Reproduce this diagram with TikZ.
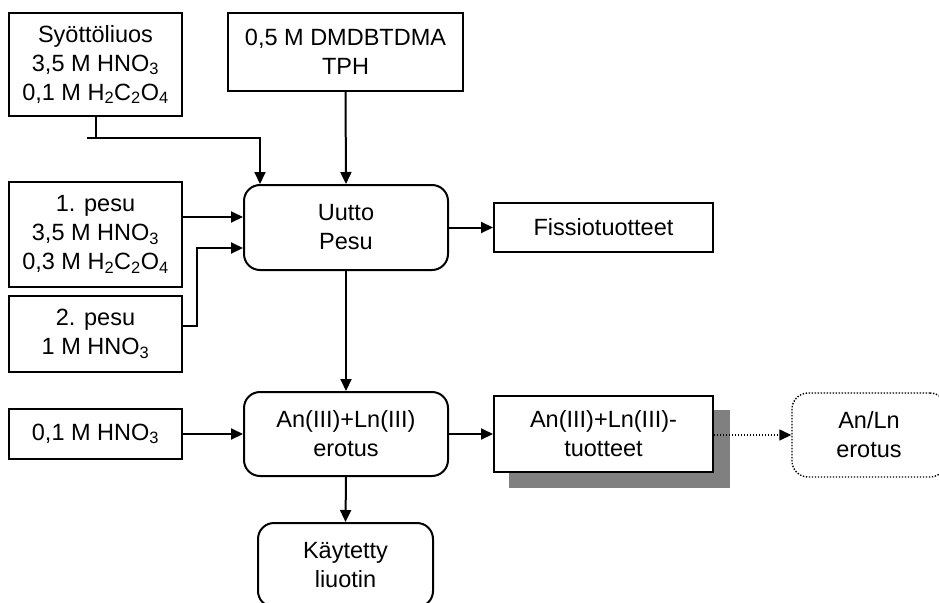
\documentclass[tikz,border=0pt]{standalone}
\usepackage{fontspec}
\setmainfont{Liberation Sans}
\usetikzlibrary{arrows.meta}
\begin{document}
\begin{tikzpicture}[x=1pt,y=-1pt,
  every node/.style={font=\fontsize{23.5}{29}\selectfont, align=center, inner sep=0pt},
  plainbox/.style={draw, line width=2pt, minimum width=#1},
  plainbox/.default=173pt,
  roundbox/.style={draw, line width=2pt, rounded corners=16pt, minimum width=204pt},
  dotbox/.style={draw, line width=1.4pt, dash pattern=on 1.4pt off 1.6pt, rounded corners=16pt},
  flow/.style={line width=2pt, -{Triangle[length=12pt,width=11pt]}},
  dotflow/.style={line width=1.4pt, dash pattern=on 1.4pt off 1.6pt, -{Triangle[length=12pt,width=11pt]}},
  shadowfill/.style={fill=black!50}]
\useasboundingbox (0,0) rectangle (939,602);
\clip (0,0) rectangle (939,602);

% feed and wash solutions
\node[plainbox, minimum height=103pt] (syotto) at (95.5,64.5)
  {Syöttöliuos\\3,5 M HNO\textsubscript{3}\\0,1 M H\textsubscript{2}C\textsubscript{2}O\textsubscript{4}};
\node[plainbox=235pt, minimum height=78pt] (dmdb) at (345.5,52) {0,5 M DMDBTDMA\\TPH};
\node[plainbox, minimum height=105pt] (pesu1) at (95.5,234.5)
  {1. pesu\\3,5 M HNO\textsubscript{3}\\0,3 M H\textsubscript{2}C\textsubscript{2}O\textsubscript{4}};
\node[plainbox, minimum height=76pt] (pesu2) at (95.5,334) {2. pesu\\1 M HNO\textsubscript{3}};
\node[plainbox, minimum height=50pt] (hno) at (95.5,434) {0,1 M HNO\textsubscript{3}};

% process steps
\node[roundbox, minimum height=85pt] (uutto) at (346,227.5) {Uutto\\Pesu};
\node[roundbox, minimum height=84pt] (an) at (346,434) {An(III)+Ln(III)\\erotus};
\node[roundbox, minimum width=175pt, minimum height=84pt] (kaytetty) at (345.5,565) {Käytetty\\liuotin};

% products
\node[plainbox=219pt, minimum height=49pt] (fissio) at (603.5,227.5) {Fissiotuotteet};
\fill[shadowfill] (509,410) rectangle (730,488);
\node[plainbox=219pt, minimum height=76pt, fill=white] (tuot) at (603.5,434) {An(III)+Ln(III)-\\tuotteet};
\node[dotbox, minimum width=154pt, minimum height=84pt] (anln) at (869,435) {An/Ln\\erotus};

% connectors
\coordinate (j1) at (87,138);
\draw[line width=2pt] (syotto.south) -- (syotto.south |- j1);
\draw[flow] (j1) -| ([xshift=-86pt]uutto.north);
\draw[flow] (dmdb.south) -- (uutto.north);
\draw[flow] (pesu1.east |- 0,217) -- (uutto.west |- 0,217);
\draw[flow] (pesu2.east |- 0,326) -- (197,326) |- (uutto.west |- 0,248);
\draw[flow] (uutto.east) -- (fissio.west);
\draw[flow] (uutto.south) -- (an.north);
\draw[flow] (hno.east) -- (an.west);
\draw[flow] (an.east) -- (tuot.west);
\draw[dotflow] (tuot.east |- 0,435) -- (anln.west);
\draw[flow] (an.south) -- (kaytetty.north);
\end{tikzpicture}
\end{document}
